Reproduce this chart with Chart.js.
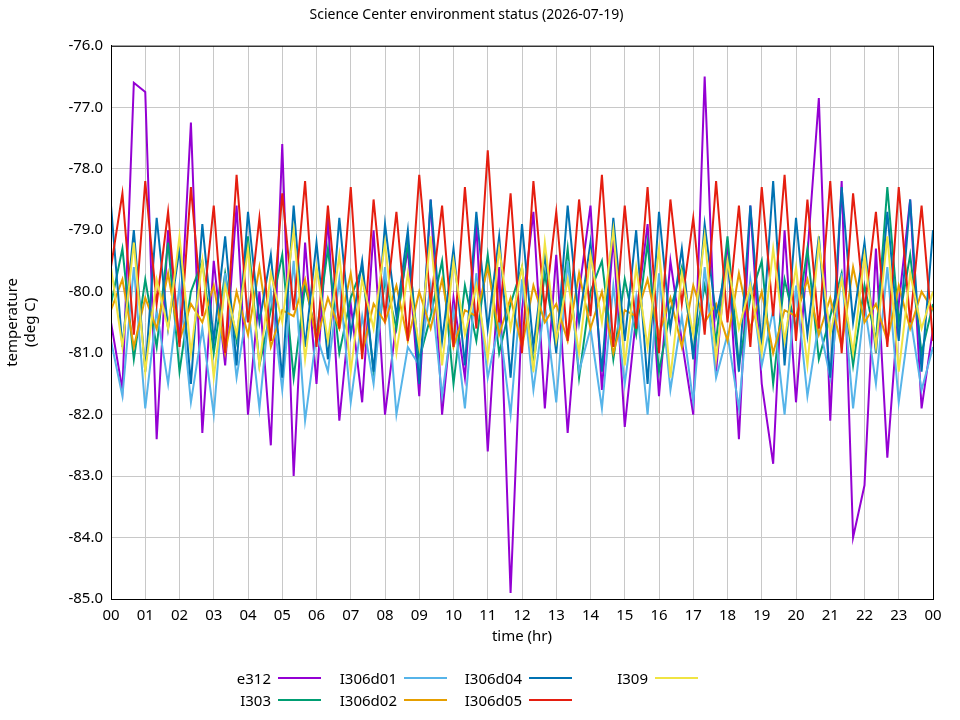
<!DOCTYPE html>
<html>
<head>
<meta charset="utf-8">
<script src="https://cdn.jsdelivr.net/npm/chart.js@4"></script>
<style>
  body { margin: 0; background: #fff; font-family: "Noto Sans", sans-serif; }
  #wrap { position: relative; width: 960px; height: 720px; }
  #legend { position: absolute; left: 0; top: 667px; width: 960px; font-size: 15px; color: #000; }
  .it { position: absolute; height: 22px; line-height: 22px; }
  .it span.sw { position: absolute; top: 10px; width: 43px; height: 2px; }
</style>
</head>
<body>
<div id="wrap">
  <canvas id="c" width="960" height="720"></canvas>
  <div id="legend"></div>
</div>
<script>
var seriesNames = ['e312', 'I303', 'I306d01', 'I306d02', 'I306d04', 'I306d05', 'I309'];
var seriesColors = ['#9400d3', '#009e73', '#56b4e9', '#e69f00', '#0072b2', '#e51e10', '#f0e442'];

var e312 = [-80.5,-81.6,-76.6,-76.75,-82.4,-79.0,-80.8,-77.25,-82.3,-79.5,
  -81.2,-78.6,-82.0,-80.0,-82.5,-77.6,-83.0,-79.2,-81.5,-78.8,
  -82.1,-80.2,-81.8,-79.0,-82.0,-80.5,-79.3,-81.7,-78.5,-82.0,
  -80.1,-81.4,-78.9,-82.6,-79.6,-84.9,-80.3,-78.7,-81.9,-79.4,
  -82.3,-80.0,-78.6,-81.6,-79.1,-82.2,-80.4,-78.9,-81.7,-79.5,
  -80.8,-82.0,-76.5,-81.3,-79.2,-82.4,-78.6,-81.5,-82.8,-79.0,
  -81.8,-79.4,-76.85,-82.1,-78.2,-84.0,-83.15,-79.3,-82.7,-80.2,
  -78.5,-81.9,-80.6];
var i303 = [-80.2,-79.3,-81.1,-79.8,-80.9,-79.2,-81.3,-80.0,-79.5,-81.0,
  -79.7,-80.8,-79.1,-81.2,-80.3,-79.4,-81.4,-79.9,-80.7,-79.3,
  -81.0,-80.1,-79.6,-81.3,-79.8,-80.6,-79.2,-81.1,-80.4,-79.5,
  -81.5,-79.9,-80.8,-79.4,-81.0,-80.2,-79.6,-81.2,-79.7,-80.9,
  -79.3,-81.4,-80.0,-79.5,-81.1,-79.8,-80.7,-79.2,-81.3,-80.3,
  -79.6,-81.0,-79.9,-80.8,-79.1,-81.2,-80.1,-79.5,-81.5,-79.8,
  -80.6,-79.3,-81.1,-80.4,-79.7,-81.2,-79.9,-80.8,-78.3,-80.5,
  -79.4,-81.0,-80.2];
var i306d01 = [-80.8,-81.7,-79.6,-81.9,-80.3,-81.5,-79.9,-81.8,-80.6,-82.0,
  -79.7,-81.4,-80.2,-81.9,-80.0,-81.6,-79.5,-82.1,-80.7,-81.3,
  -79.8,-81.8,-80.4,-81.5,-79.6,-82.0,-80.9,-81.2,-79.9,-81.7,
  -80.3,-81.9,-79.7,-81.4,-80.5,-82.0,-79.8,-81.6,-80.2,-81.8,
  -79.5,-81.3,-80.6,-81.9,-79.9,-81.5,-80.1,-82.0,-79.7,-81.6,
  -80.4,-81.8,-79.6,-81.4,-80.7,-81.9,-79.8,-81.2,-80.3,-82.0,
  -79.9,-81.7,-80.5,-81.4,-79.7,-81.9,-80.2,-81.5,-79.6,-81.8,
  -80.4,-81.6,-80.9];
var i306d02 = [-80.3,-79.8,-80.9,-80.1,-80.6,-79.7,-80.8,-80.2,-80.5,-79.9,
  -81.0,-80.0,-80.7,-79.6,-80.9,-80.3,-80.4,-79.8,-80.8,-80.1,
  -80.6,-79.7,-81.0,-80.2,-80.5,-79.9,-80.8,-80.0,-80.6,-79.8,
  -80.9,-80.3,-80.4,-79.6,-80.7,-80.1,-80.9,-79.9,-80.5,-80.2,
  -80.8,-79.7,-80.6,-80.0,-81.0,-80.3,-80.4,-79.8,-80.7,-80.1,
  -80.9,-79.9,-80.5,-80.2,-80.8,-79.7,-80.6,-80.0,-81.0,-80.3,
  -80.4,-79.8,-80.7,-80.1,-80.9,-79.6,-80.5,-80.2,-80.8,-79.9,
  -80.6,-80.0,-80.3];
var i306d04 = [-78.6,-80.9,-79.0,-81.3,-78.8,-80.6,-79.3,-81.5,-78.9,-80.8,
  -79.1,-81.2,-78.7,-80.5,-79.4,-81.4,-78.6,-80.9,-79.2,-81.1,
  -78.8,-80.7,-79.5,-81.3,-78.9,-80.4,-79.0,-81.5,-78.5,-80.8,
  -79.3,-81.2,-78.7,-80.6,-79.1,-81.4,-78.9,-80.9,-79.4,-81.0,
  -78.6,-80.5,-79.2,-81.3,-78.8,-80.8,-79.0,-81.5,-78.7,-80.6,
  -79.3,-81.1,-78.9,-80.4,-79.5,-81.3,-78.6,-80.9,-78.2,-81.2,
  -78.8,-80.7,-79.1,-81.4,-78.3,-80.5,-79.2,-81.0,-78.7,-80.8,
  -78.5,-81.3,-79.0];
var i306d05 = [-79.6,-78.4,-80.7,-78.2,-80.2,-78.7,-80.9,-78.3,-80.4,-78.6,
  -81.0,-78.1,-80.5,-78.8,-80.8,-78.4,-80.3,-78.2,-80.9,-78.6,
  -80.6,-78.3,-81.1,-78.5,-80.4,-78.7,-80.8,-78.1,-80.2,-78.6,
  -80.9,-78.3,-80.6,-77.7,-80.5,-78.4,-81.0,-78.2,-80.3,-78.7,
  -80.8,-78.5,-80.4,-78.1,-80.9,-78.6,-80.6,-78.3,-81.0,-78.5,
  -80.2,-78.8,-80.7,-78.2,-80.5,-78.6,-80.9,-78.3,-80.4,-78.1,
  -80.8,-78.5,-80.6,-78.2,-81.0,-78.4,-80.3,-78.7,-80.9,-78.3,
  -80.5,-78.6,-80.8];
var i309 = [-79.6,-80.9,-79.2,-81.3,-79.8,-80.6,-79.1,-81.0,-79.5,-81.4,
  -79.9,-80.7,-79.3,-81.2,-79.7,-80.5,-79.0,-81.1,-79.6,-80.8,
  -79.4,-81.3,-79.8,-80.6,-79.2,-81.0,-79.7,-80.9,-79.1,-81.2,
  -79.5,-80.7,-79.9,-81.1,-79.3,-80.6,-79.6,-81.3,-79.2,-80.8,
  -79.8,-81.0,-79.4,-80.5,-79.0,-81.2,-79.6,-80.9,-79.3,-81.4,
  -79.7,-80.7,-79.1,-81.1,-79.5,-80.6,-79.9,-81.0,-79.3,-80.8,
  -79.6,-81.2,-79.2,-80.7,-79.8,-81.0,-79.4,-80.9,-79.1,-81.3,
  -79.7,-80.6,-80.0];
var allSeries = [e312, i303, i306d01, i306d02, i306d04, i306d05, i309];

var hourLabels = ['00','01','02','03','04','05','06','07','08','09','10','11',
  '12','13','14','15','16','17','18','19','20','21','22','23','00'];

function toPoints(vals) {
  return vals.map(function(v, i) { return { x: i * 24 / (vals.length - 1), y: v }; });
}

var datasets = allSeries.map(function(vals, i) {
  return {
    label: seriesNames[i],
    data: toPoints(vals),
    borderColor: seriesColors[i],
    backgroundColor: seriesColors[i],
    borderWidth: 2,
    pointRadius: 0,
    tension: 0,
    order: 7 - i
  };
});

Chart.defaults.font.family = '"Noto Sans", sans-serif';
Chart.defaults.color = '#000';

new Chart(document.getElementById('c'), {
  type: 'line',
  data: { datasets: datasets },
  options: {
    responsive: false,
    animation: false,
    layout: { padding: { top: 0, right: 27, bottom: 70, left: 0 } },
    plugins: {
      legend: { display: false },
      tooltip: { enabled: false },
      title: {
        display: true,
        text: 'Science Center environment status (2026-07-19)',
        font: { size: 14, weight: 'normal' },
        padding: { top: 7, bottom: 22 }
      }
    },
    scales: {
      x: {
        type: 'linear', min: 0, max: 24,
        afterFit: function(s) { s.height = 51; },
        afterBuildTicks: function(s) {
          s.ticks = hourLabels.map(function(l, i) { return { value: i }; });
        },
        ticks: {
          font: { size: 15 }, padding: 8, maxRotation: 0, autoSkip: false,
          callback: function(v) { return hourLabels[v]; }
        },
        grid: { color: '#c8c8c8', drawTicks: false },
        border: { color: '#000', width: 1 },
        title: { display: true, text: 'time (hr)', font: { size: 15 }, padding: { top: 24 } }
      },
      y: {
        min: -85, max: -76,
        afterFit: function(s) { s.width = 111; },
        ticks: {
          stepSize: 1, font: { size: 15 }, padding: 8,
          callback: function(v) { return v.toFixed(1); }
        },
        grid: { color: '#c8c8c8', drawTicks: false },
        border: { color: '#000', width: 1 },
        title: { display: true, text: ['temperature', '(deg C)'], font: { size: 15 }, padding: { bottom: 4 } }
      }
    }
  },
  plugins: [{
    id: 'frame',
    afterDraw: function(chart) {
      var a = chart.chartArea, ctx = chart.ctx;
      ctx.save();
      ctx.strokeStyle = '#000';
      ctx.lineWidth = 1;
      ctx.strokeRect(a.left + 0.5, a.top + 0.5, a.right - a.left, a.bottom - a.top);
      ctx.restore();
    }
  }]
});

// gnuplot-style legend: label then line sample, 4 columns x 2 rows
var legendPos = [[271, 0], [271, 22], [397, 0], [397, 22], [522, 0], [522, 22], [648, 0]];
var leg = document.getElementById('legend');
seriesNames.forEach(function(n, i) {
  var d = document.createElement('div');
  d.className = 'it';
  var right = legendPos[i][0];
  d.style.left = (right - 200) + 'px';
  d.style.width = '200px';
  d.style.top = legendPos[i][1] + 'px';
  d.style.textAlign = 'right';
  d.textContent = n;
  var sw = document.createElement('span');
  sw.className = 'sw';
  sw.style.left = '207px';
  sw.style.background = seriesColors[i];
  d.appendChild(sw);
  leg.appendChild(d);
});
</script>
</body>
</html>
